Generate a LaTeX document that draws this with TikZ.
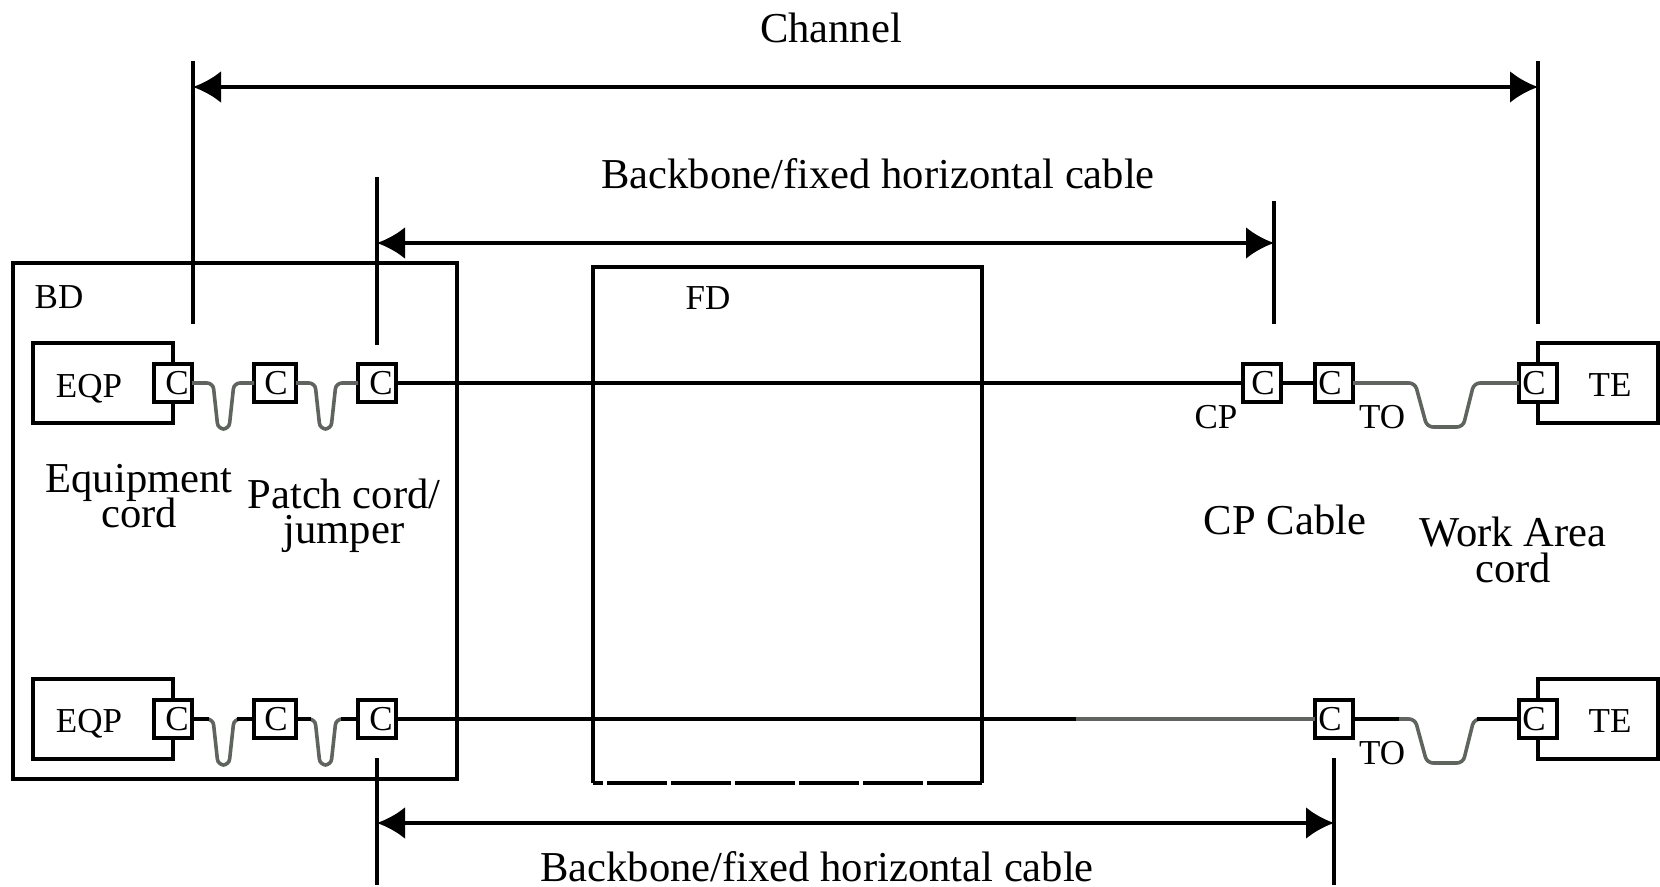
\documentclass[tikz,border=0pt]{standalone}
\usepackage{fontspec}
\setmainfont{Liberation Serif}
\usetikzlibrary{arrows.meta}
\setlength{\lineskiplimit}{-10pt}
\newcommand{\connr}{\raisebox{-1pt}{\kern4pt C}}
\newcommand{\connl}{\raisebox{-1pt}{C\kern4pt}}
\newcommand{\connm}{\raisebox{-1pt}{\kern1pt C}}

\begin{document}
\begin{tikzpicture}[
    x=0.5pt, y=-0.5pt,
    rack/.style={rectangle, draw=black, line width=2pt, inner sep=0pt, outer sep=0pt},
    device/.style={rectangle, draw=black, fill=white, line width=2pt, inner sep=0pt, outer sep=0pt, minimum width=70pt, minimum height=40pt},
    conn/.style={rectangle, draw=black, fill=white, line width=2pt, inner sep=0pt, outer sep=0pt, minimum width=19pt, minimum height=19pt, font=\fontsize{17.5}{17.5}\selectfont},
    tag/.style={inner sep=0pt, font=\fontsize{17.5}{17.5}\selectfont},
    caption/.style={inner sep=0pt, align=center, font=\fontsize{21.3}{17.7}\selectfont},
    wire/.style={line width=2pt},
    cord/.style={line width=1.8pt, draw=cordgray, rounded corners=3pt},
    limit/.style={line width=2pt},
    span/.style={line width=2pt, {Latex[length=14pt,width=16pt]}-{Latex[length=14pt,width=16pt]}}
]
\definecolor{cordgray}{RGB}{95,100,95}
\useasboundingbox (0,0) rectangle (1660,887);

% Racks
\node[rack, minimum width=222pt, minimum height=258pt] (bd) at (235,521) {};
\node[inner sep=0pt, outer sep=0pt, minimum width=194.5pt, minimum height=258pt] (fd) at (787.5,525) {};
\draw[line width=2pt] (fd.south west) |- (fd.north east) -- (fd.south east);
\draw[line width=2pt, dash pattern=on 30pt off 2pt, dash phase=25pt] (fd.south west) -- (fd.south east);
\node[tag] (bdtag) at (59,297) {BD};
\node[tag] (fdtag) at (708,298) {FD};

% Upper row
\node[device] (eqptop) at (103,383) {};
\node[device, minimum width=60pt] (tetop) at (1598,383) {};
\node[tag] (eqptoptag) at (89,389) {EQP};
\node[tag] (tetoptag) at (1610,385) {TE};
\node[conn] (ctopa) at (173,383) {\connr};
\node[conn, minimum width=21pt] (ctopb) at (275,383) {\connm};
\node[conn] (ctopc) at (377,383) {\connr};
\node[conn] (ctopd) at (1262,383) {\connm};
\node[conn] (ctope) at (1334,383) {\connl};
\node[conn] (ctopf) at (1538,383) {\connl};
\node[tag] (cptag) at (1216,417) {CP};
\node[tag] (totoptag) at (1382,417) {TO};

\draw[cord] (ctopa.east) -- ++(21,0) -- ++(5,46) -- ++(11,0) -- ++(5,-46) -- (ctopb.west);
\draw[cord] (ctopb.east) -- ++(19,0) -- ++(5,46) -- ++(11,0) -- ++(5,-46) -- (ctopc.west);
\draw[wire] (ctopc.east) -- (ctopd.west);
\draw[wire] (ctopd.east) -- (ctope.west);
\draw[cord] (ctope.east) -- ++(62,0) -- ++(12,44) -- ++(36,0) -- ++(11,-44) -- (ctopf.west);

% Lower row
\node[device] (eqpbot) at (103,719) {};
\node[device, minimum width=60pt] (tebot) at (1598,719) {};
\node[tag] (eqpbottag) at (89,724) {EQP};
\node[tag] (tebottag) at (1610,721) {TE};
\node[conn] (cbota) at (173,719) {\connr};
\node[conn, minimum width=21pt] (cbotb) at (275,719) {\connm};
\node[conn] (cbotc) at (377,719) {\connr};
\node[conn] (cbotd) at (1334,719) {\connl};
\node[conn] (cbote) at (1538,719) {\connl};
\node[tag] (tobottag) at (1382,753) {TO};
\coordinate (fade) at (1076,719);

\draw[cord] (cbota.east) -- ++(21,0) -- ++(5,46) -- ++(11,0) -- ++(5,-46) -- (cbotb.west);
\draw[cord] (cbotb.east) -- ++(19,0) -- ++(5,46) -- ++(11,0) -- ++(5,-46) -- (cbotc.west);
\draw[wire] (cbota.east) -- ++(17,0);
\draw[wire] (cbotb.west) -- ++(-17,0);
\draw[wire] (cbotb.east) -- ++(15,0);
\draw[wire] (cbotc.west) -- ++(-17,0);
\draw[wire] (cbotc.east) -- (fade);
\draw[cord, line width=2.4pt] (fade) -- (cbotd.west);
\draw[cord] (cbotd.east) -- ++(62,0) -- ++(12,44) -- ++(36,0) -- ++(11,-44) -- (cbote.west);
\draw[wire] (cbotd.east) -- ++(46,0);
\draw[wire] (cbote.west) -- ++(-42,0);

% Limits
\coordinate (chanltop) at (193,61);
\coordinate (chanl) at (193,87);
\coordinate (chanlend) at (193,324);
\coordinate (chanrtop) at (1538,61);
\coordinate (chanr) at (1538,87);
\coordinate (chanrend) at (1538,324);
\coordinate (fixltop) at (377,177);
\coordinate (fixl) at (377,243);
\coordinate (fixlend) at (377,345);
\coordinate (fixrtop) at (1274,201);
\coordinate (fixr) at (1274,243);
\coordinate (fixrend) at (1274,324);
\coordinate (backltop) at (377,758);
\coordinate (backl) at (377,823);
\coordinate (backlend) at (377,885);
\coordinate (backrtop) at (1334,758);
\coordinate (backr) at (1334,823);
\coordinate (backrend) at (1334,885);

\draw[limit] (chanltop) -- (chanlend);
\draw[limit] (chanrtop) -- (chanrend);
\draw[limit] (fixltop) -- (fixlend);
\draw[limit] (fixrtop) -- (fixrend);
\draw[limit] (backltop) -- (backlend);
\draw[limit] (backrtop) -- (backrend);
\draw[span] (chanl) -- (chanr);
\draw[span] (fixl) -- (fixr);
\draw[span] (backl) -- (backr);

% Captions
\node[caption] (channel) at (831,28) {Channel};
\node[caption] (fixedtop) at (878,174) {Backbone/fixed horizontal cable};
\node[caption] (fixedbot) at (817,867) {Backbone/fixed horizontal cable};
\node[caption] (eqpcord) at (139,496) {Equipment\\cord};
\node[caption] (patch) at (344,516) {Patch cord/\\jumper};
\node[caption] (cpcable) at (1285,520) {CP Cable};
\node[caption] (wacord) at (1513,550) {Work Area\\cord};
\end{tikzpicture}
\end{document}
